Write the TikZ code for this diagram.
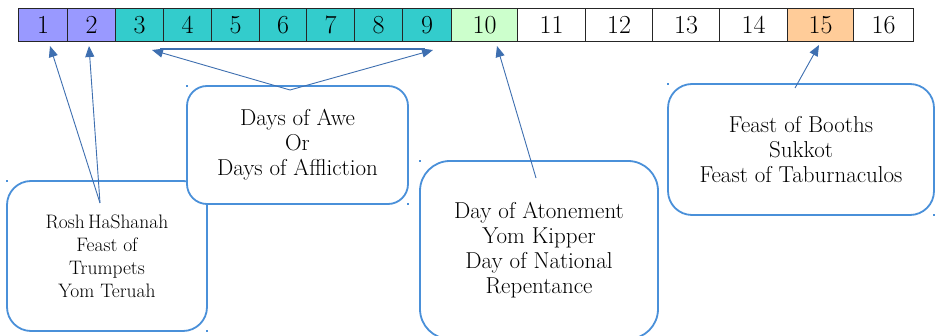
\documentclass[tikz,border=0pt]{standalone}
\usetikzlibrary{arrows.meta}
\definecolor{lav}{HTML}{9999FF}
\definecolor{teal2}{HTML}{33CCCC}
\definecolor{lgreen}{HTML}{CCFFCC}
\definecolor{peach}{HTML}{FFCC99}
\definecolor{boxblue}{HTML}{4A90D9}
\definecolor{arrblue}{HTML}{3E6FB0}
\tikzset{
  cell/.style={draw=black!85, line width=1.2pt, minimum height=33pt, inner sep=0pt, anchor=north west,
    font=\fontsize{26}{26}\selectfont},
  callout/.style={draw=boxblue, line width=1.8pt, fill=white, rounded corners=24pt, align=center, inner sep=0pt,
    font=\fontsize{23}{25}\selectfont},
  conn/.style={draw=arrblue, line width=0.9pt},
  tip/.style={conn, -{Triangle[length=11pt,width=9pt]}},
  handle/.style={fill=boxblue, inner sep=0pt, minimum size=2pt},
}
\begin{document}
\begin{tikzpicture}[x=1pt,y=-1pt]
\clip (0,0) rectangle (936,336);
\fill[white] (0,0) rectangle (936,336);
% cells
\node[cell, fill=lav,   minimum width=49pt] (c1)  at (18,8)  {1};
\node[cell, fill=lav,   minimum width=48pt] (c2)  at (67,8)  {2};
\node[cell, fill=teal2, minimum width=48pt] (c3)  at (115,8) {3};
\node[cell, fill=teal2, minimum width=48pt] (c4)  at (163,8) {4};
\node[cell, fill=teal2, minimum width=48pt] (c5)  at (211,8) {5};
\node[cell, fill=teal2, minimum width=47pt] (c6)  at (259,8) {6};
\node[cell, fill=teal2, minimum width=48pt] (c7)  at (306,8) {7};
\node[cell, fill=teal2, minimum width=48pt] (c8)  at (354,8) {8};
\node[cell, fill=teal2, minimum width=49pt] (c9)  at (402,8) {9};
\node[cell, fill=lgreen,minimum width=66pt] (c10) at (451,8) {10};
\node[cell, fill=white, minimum width=68pt] (c11) at (517,8) {11};
\node[cell, fill=white, minimum width=67pt] (c12) at (585,8) {12};
\node[cell, fill=white, minimum width=67pt] (c13) at (652,8) {13};
\node[cell, fill=white, minimum width=68pt] (c14) at (719,8) {14};
\node[cell, fill=peach, minimum width=66pt] (c15) at (787,8) {15};
\node[cell, fill=white, minimum width=60pt] (c16) at (853,8) {16};
% callouts
\node[callout, minimum width=200pt, minimum height=150pt, font=\fontsize{19.5}{23}\selectfont] (rosh) at (107,256)
  {Rosh\,HaShanah\\Feast of\\Trumpets\\Yom Teruah};
\node[callout, minimum width=221pt, minimum height=118pt, rounded corners=20pt] (awe) at (297.5,145)
  {Days of Awe\\Or\\Days of Affliction};
\node[callout, minimum width=238pt, minimum height=178pt, rounded corners=30pt] (atone) at (539,250)
  {Day of Atonement\\Yom Kipper\\Day of National\\Repentance};
\node[callout, minimum width=266pt, minimum height=131pt] (booth) at (801,149.5)
  {Feast of Booths\\Sukkot\\Feast of Taburnaculos};
% handles
\node[handle] (h1) at (7,181) {};
\node[handle] (h2) at (207,331) {};
\node[handle] (h3) at (187,86) {};
\node[handle] (h4) at (408,204) {};
\node[handle] (h5) at (420,161) {};
\node[handle] (h6) at (668,84) {};
\node[handle] (h7) at (934,215) {};
% connector ends
\coordinate (roshO) at (100,203);
\coordinate (t1) at (50,46);
\coordinate (t2) at (89,46);
\coordinate (aweO) at (290,90);
\coordinate (tl) at (152,50);
\coordinate (tr) at (433,50);
\coordinate (hl) at (160,49);
\coordinate (hr) at (425,49);
\coordinate (atoneO) at (536,178);
\coordinate (t10) at (497,46);
\coordinate (boothO) at (795,88);
\coordinate (t15) at (819,45);
% connectors
\draw[tip] (roshO) -- (t1);
\draw[tip] (roshO) -- (t2);
\draw[tip] (aweO) -- (tl);
\draw[tip] (aweO) -- (tr);
\draw[conn, line width=1.2pt] (hl) -- (hr);
\draw[tip] (atoneO) -- (t10);
\draw[tip] (boothO) -- (t15);
\end{tikzpicture}
\end{document}
